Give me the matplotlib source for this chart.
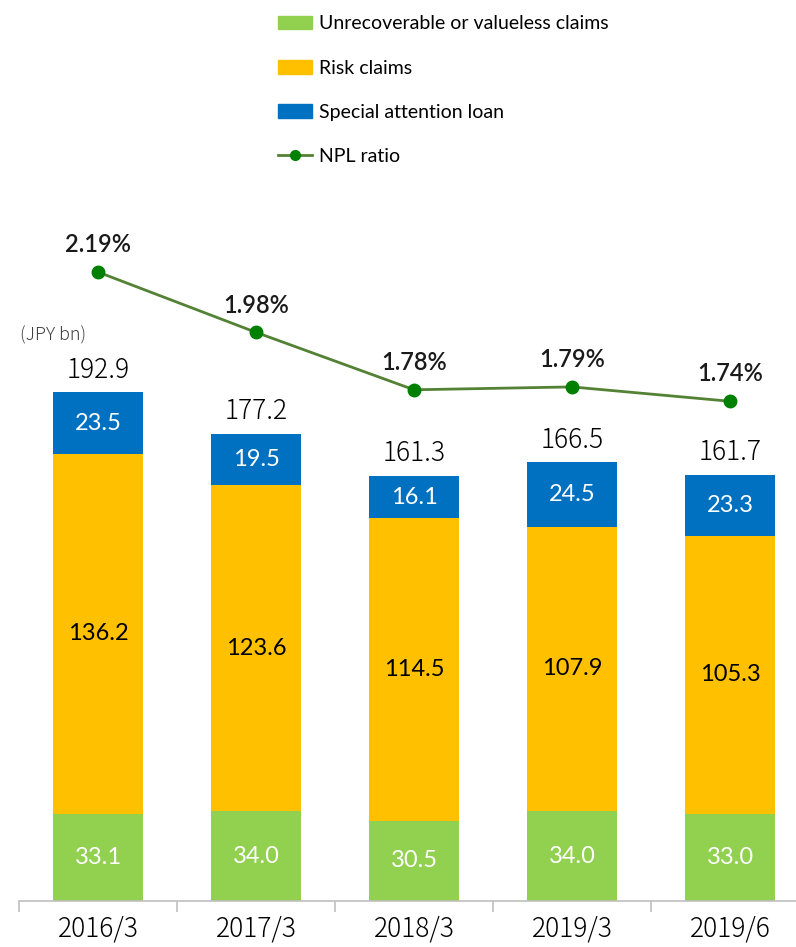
import matplotlib
matplotlib.use("Agg")
import matplotlib.pyplot as plt
import numpy as np
from matplotlib.lines import Line2D
from matplotlib.patches import Patch

periods = ["2016/3", "2017/3", "2018/3", "2019/3", "2019/6"]
unrecoverable = [33.1, 34.0, 30.5, 34.0, 33.0]
risk = [136.2, 123.6, 114.5, 107.9, 105.3]
special = [23.5, 19.5, 16.1, 24.5, 23.3]
totals = [192.9, 177.2, 161.3, 166.5, 161.7]
npl_ratio = [2.19, 1.98, 1.78, 1.79, 1.74]

GREEN, ORANGE, BLUE = "#92D050", "#FFC000", "#0070C0"
LINE, MARKER = "#548235", "#008000"
LAT = ["Lato", "DejaVu Sans"]
JP = ["Noto Sans CJK JP", "DejaVu Sans"]

fig = plt.figure(figsize=(7.96, 9.47), dpi=100)
ax = fig.add_axes([19 / 796, 46 / 947, 790 / 796, 701 / 947])
x = np.arange(len(periods))
w = 0.575

lower = np.array(unrecoverable)
mid = lower + np.array(risk)
ax.bar(x, unrecoverable, w, color=GREEN, zorder=2)
ax.bar(x, risk, w, bottom=lower, color=ORANGE, zorder=2)
ax.bar(x, special, w, bottom=mid, color=BLUE, zorder=2)

for i in range(len(x)):
    ax.text(x[i], unrecoverable[i] / 2, f"{unrecoverable[i]:.1f}", ha="center", va="center",
            color="white", fontsize=17, family=LAT)
    ax.text(x[i], lower[i] + risk[i] / 2, f"{risk[i]:.1f}", ha="center", va="center",
            color="black", fontsize=17, family=LAT)
    ax.text(x[i], mid[i] + special[i] / 2, f"{special[i]:.1f}", ha="center", va="center",
            color="white", fontsize=17, family=LAT)
    ax.text(x[i], totals[i] + 3, f"{totals[i]:.1f}", ha="center", va="bottom",
            color="#000000", fontsize=19, family=JP, fontweight="light")

ax.set_xlim(-0.5, len(x) - 0.5)
ax.set_ylim(0, 701 / 2.639)
ax.set_yticks([])
ax.set_xticks(np.arange(-0.5, len(x)))
ax.set_xticklabels([])
ax.set_xticks(x, minor=True)
ax.set_xticklabels(periods, minor=True, fontsize=19, family=JP, fontweight="light",
                   color="#000000")
ax.tick_params(axis="x", which="major", length=8, color="#BFBFBF", width=1.2)
ax.tick_params(axis="x", which="minor", length=0, pad=10)
for side in ["top", "right", "left"]:
    ax.spines[side].set_visible(False)
ax.spines["bottom"].set_color("#BFBFBF")
ax.spines["bottom"].set_linewidth(1.2)

ax2 = ax.twinx()
ax2.set_ylim(0, 701 / 287.2)
ax2.plot(x, npl_ratio, color=LINE, lw=2, marker="o", ms=9, mfc=MARKER, mec=MARKER, zorder=3)
for i in range(len(x)):
    ax2.text(x[i], npl_ratio[i] + 0.055, f"{npl_ratio[i]:.2f}%", ha="center", va="bottom",
             fontsize=17, fontweight="semibold", family=LAT, color="#1a1a1a")
ax2.axis("off")

fig.text(20 / 796, 1 - 335 / 947, "(JPY bn)", ha="left", va="center", fontsize=13,
         color="#404040", family=JP, fontweight="light")

handles = [Patch(color=GREEN), Patch(color=ORANGE), Patch(color=BLUE),
           Line2D([], [], color=LINE, lw=2, marker="o", ms=7, mfc=MARKER, mec=MARKER)]
labels = ["Unrecoverable or valueless claims", "Risk claims", "Special attention loan", "NPL ratio"]
fig.legend(handles, labels, loc="upper left", bbox_to_anchor=(260 / 796, 1 + 2 / 947),
           frameon=False, prop={"family": LAT, "size": 14}, handlelength=1.75,
           handletextpad=0.4, labelspacing=1.4)

fig.savefig("out.png", dpi=100)
